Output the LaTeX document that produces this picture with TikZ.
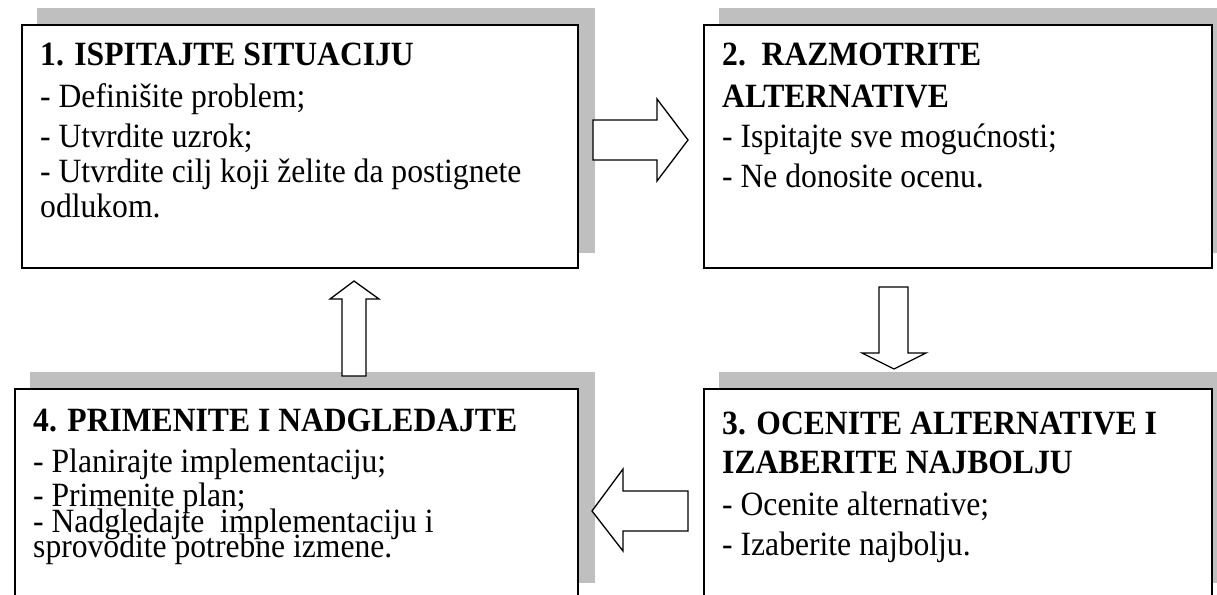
\documentclass[tikz,border=0pt]{standalone}
\usepackage{fontspec}
\setmainfont{Liberation Serif}[FakeStretch=0.93]
\usetikzlibrary{backgrounds}
\definecolor{shadowgray}{HTML}{BFBFBF}
\tikzset{
  box/.style={draw=black, line width=1.8pt, fill=white, inner sep=0pt, anchor=north west},
  shadowbox/.style={fill=shadowgray},
  txt/.style={anchor=base west, inner sep=0pt, font=\fontsize{34}{40}\selectfont},
  ttl/.style={txt, font=\fontsize{34}{40}\selectfont\bfseries},
  blockarrow/.style={draw=black, line width=1.3pt, fill=white, line join=miter}
}
\begin{document}
\begin{tikzpicture}[x=1pt,y=-1pt]
\clip (0,0) rectangle (1217,594);
% boxes
\node[box, minimum width=556pt, minimum height=243pt] (b1) at (21,24) {};
\node[box, minimum width=508pt, minimum height=243pt] (b2) at (703,24) {};
\node[box, minimum width=508pt, minimum height=209pt] (b3) at (703,388) {};
\node[box, minimum width=563pt, minimum height=209pt] (b4) at (14,388) {};
% shadows
\begin{scope}[on background layer]
\foreach \b in {b1,b2,b3,b4}{
  \fill[shadowbox] ([xshift=16pt,yshift=16pt]\b.south west) rectangle ([xshift=16pt,yshift=16pt]\b.north east);
}
\end{scope}
% texts box 1
\node[ttl] (t1) at (40,66) {1. ISPITAJTE SITUACIJU};
\node[txt] (t1a) at (40,107) {- Definišite problem;};
\node[txt] (t1b) at (40,147) {- Utvrdite uzrok;};
\node[txt] (t1c) at (40,182) {- Utvrdite cilj koji želite da postignete};
\node[txt] (t1d) at (40,217) {odlukom.};
% box 2
\node[ttl] (t2) at (722,66) {2.\ \ RAZMOTRITE};
\node[ttl] (t2x) at (722,107) {ALTERNATIVE};
\node[txt] (t2a) at (722,147) {- Ispitajte sve mogućnosti;};
\node[txt] (t2b) at (722,187) {- Ne donosite ocenu.};
% box 3
\node[ttl] (t3) at (722,434) {3. OCENITE ALTERNATIVE I};
\node[ttl] (t3x) at (722,473) {IZABERITE NAJBOLJU};
\node[txt] (t3a) at (722,515) {- Ocenite alternative;};
\node[txt] (t3b) at (722,555) {- Izaberite najbolju.};
% box 4
\node[ttl] (t4) at (33,431) {4. PRIMENITE I NADGLEDAJTE};
\node[txt] (t4a) at (33,472) {- Planirajte implementaciju;};
\node[txt] (t4b) at (33,506) {- Primenite plan;};
\node[txt] (t4c) at (33,532) {- Nadgledajte\ \ implementaciju i};
\node[txt] (t4d) at (33,557) {sprovodite potrebne izmene.};
% block arrows
\draw[blockarrow] (593,120) -- (657,120) -- (657,99) -- (688,140) -- (657,181) -- (657,160) -- (593,160) -- cycle;
\draw[blockarrow] (879,287) -- (908,287) -- (908,353) -- (926,353) -- (894,369) -- (862,353) -- (879,353) -- cycle;
\draw[blockarrow] (688,491) -- (623,491) -- (623,469) -- (592,511) -- (623,551) -- (623,531) -- (688,531) -- cycle;
\draw[blockarrow] (342,376) -- (342,299) -- (330,299) -- (354,281) -- (379,299) -- (366,299) -- (366,376) -- cycle;
\end{tikzpicture}
\end{document}
